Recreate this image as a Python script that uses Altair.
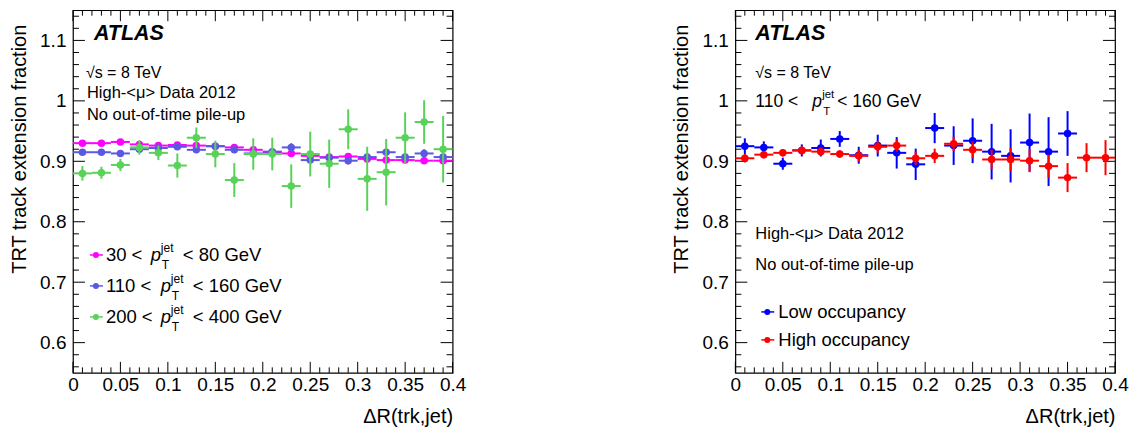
import altair as alt
import pandas as pd

FONT = "Liberation Sans"
W, H = 380, 363

# ---------------- data ----------------
bin_centers = [0.01, 0.03, 0.05, 0.07, 0.09, 0.11, 0.13, 0.15, 0.17, 0.19,
               0.21, 0.23, 0.25, 0.27, 0.29, 0.31, 0.33, 0.35, 0.37, 0.39]
half_width = 0.01

# left panel: three jet pT ranges
pt30_y = [0.930, 0.930, 0.932, 0.928, 0.926, 0.927, 0.926, 0.925, 0.923, 0.919,
          0.915, 0.913, 0.909, 0.907, 0.908, 0.904, 0.902, 0.902, 0.901, 0.901]
pt30_err = [0.002, 0.002, 0.002, 0.002, 0.002, 0.002, 0.002, 0.002, 0.002, 0.002,
            0.002, 0.002, 0.003, 0.003, 0.003, 0.003, 0.003, 0.003, 0.003, 0.003]

pt110_y = [0.915, 0.915, 0.913, 0.920, 0.922, 0.924, 0.919, 0.925, 0.919, 0.913,
           0.916, 0.923, 0.902, 0.906, 0.901, 0.907, 0.915, 0.907, 0.913, 0.907]
pt110_err = [0.002, 0.002, 0.003, 0.003, 0.003, 0.003, 0.003, 0.003, 0.004, 0.004,
             0.004, 0.007, 0.005, 0.005, 0.006, 0.006, 0.007, 0.006, 0.007, 0.007]

pt200_y = [0.880, 0.881, 0.894, 0.923, 0.914, 0.893, 0.939, 0.912, 0.869, 0.912,
           0.912, 0.859, 0.912, 0.896, 0.953, 0.871, 0.882, 0.939, 0.965, 0.920]
pt200_err = [0.012, 0.010, 0.010, 0.012, 0.012, 0.020, 0.017, 0.022, 0.028, 0.026,
             0.027, 0.036, 0.037, 0.040, 0.033, 0.053, 0.055, 0.042, 0.036, 0.055]

# right panel: occupancy
low_y = [0.925, 0.923, 0.896, 0.918, 0.922, 0.937, 0.910, 0.926, 0.914, 0.895,
         0.955, 0.926, 0.934, 0.916, 0.909, 0.931, 0.916, 0.946]
low_err = [0.013, 0.010, 0.010, 0.010, 0.014, 0.013, 0.014, 0.018, 0.026, 0.026,
           0.025, 0.032, 0.037, 0.046, 0.044, 0.048, 0.057, 0.037]

high_y = [0.905, 0.911, 0.914, 0.918, 0.916, 0.912, 0.909, 0.924, 0.926, 0.905,
          0.909, 0.929, 0.919, 0.903, 0.903, 0.901, 0.892, 0.873, 0.906, 0.906]
high_err = [0.007, 0.006, 0.006, 0.007, 0.007, 0.006, 0.010, 0.010, 0.010, 0.011,
            0.012, 0.012, 0.014, 0.016, 0.019, 0.019, 0.019, 0.024, 0.024, 0.029]

# axis ticks
x_major = [0.0, 0.05, 0.1, 0.15, 0.2, 0.25, 0.3, 0.35, 0.4]
x_minor = [0.01, 0.02, 0.03, 0.04, 0.06, 0.07, 0.08, 0.09, 0.11, 0.12, 0.13, 0.14,
           0.16, 0.17, 0.18, 0.19, 0.21, 0.22, 0.23, 0.24, 0.26, 0.27, 0.28, 0.29,
           0.31, 0.32, 0.33, 0.34, 0.36, 0.37, 0.38, 0.39]
y_major = [0.6, 0.7, 0.8, 0.9, 1.0, 1.1]
y_minor = [0.56, 0.58, 0.62, 0.64, 0.66, 0.68, 0.72, 0.74, 0.76, 0.78, 0.82, 0.84,
           0.86, 0.88, 0.92, 0.94, 0.96, 0.98, 1.02, 1.04, 1.06, 1.08, 1.12, 1.14]

# ---------------- helpers ----------------
xscale = alt.Scale(domain=[0, 0.4], nice=False, zero=False)
yscale = alt.Scale(domain=[0.55, 1.15], nice=False, zero=False)
xaxis = alt.Axis(values=x_major, format="~g", title="ΔR(trk,jet)", titleAnchor="end",
                 labelPadding=3, titlePadding=12, labelFlush=False, labelOverlap=False,
                 ticks=False, domain=False, grid=False)
yaxis = alt.Axis(values=y_major, format="~g", title="TRT track extension fraction",
                 titleAnchor="end", titleY=14, labelPadding=7, titlePadding=10,
                 labelFlush=False, labelOverlap=False, ticks=False, domain=False,
                 grid=False)


def X(f):
    return alt.X(f, type="quantitative", scale=xscale, axis=xaxis)


def Y(f):
    return alt.Y(f, type="quantitative", scale=yscale, axis=yaxis)


def series(yvals, errs, color):
    n = len(yvals)
    xs = bin_centers[:n]
    df = pd.DataFrame({
        "x": xs,
        "y": yvals,
        "xlo": [v - half_width for v in xs],
        "xhi": [v + half_width for v in xs],
        "ylo": [a - b for a, b in zip(yvals, errs)],
        "yhi": [a + b for a, b in zip(yvals, errs)],
    })
    base = alt.Chart(df)
    hbar = base.mark_rule(color=color, strokeWidth=2).encode(x=X("xlo"), x2="xhi", y=Y("y"))
    vbar = base.mark_rule(color=color, strokeWidth=2).encode(x=X("x"), y=Y("ylo"), y2="yhi")
    pts = base.mark_circle(color=color, size=56, opacity=1).encode(x=X("x"), y=Y("y"))
    return [hbar, vbar, pts]


def ticks():
    xmj = alt.Chart(pd.DataFrame({"v": x_major}))
    xmn = alt.Chart(pd.DataFrame({"v": x_minor}))
    ymj = alt.Chart(pd.DataFrame({"v": y_major}))
    ymn = alt.Chart(pd.DataFrame({"v": y_minor}))
    r = dict(color="black", strokeWidth=1)
    return [
        xmj.mark_rule(**r).encode(x=X("v"), y=alt.value(H), y2=alt.value(H - 11)),
        xmn.mark_rule(**r).encode(x=X("v"), y=alt.value(H), y2=alt.value(H - 5.5)),
        xmj.mark_rule(**r).encode(x=X("v"), y=alt.value(0), y2=alt.value(11)),
        xmn.mark_rule(**r).encode(x=X("v"), y=alt.value(0), y2=alt.value(5.5)),
        ymj.mark_rule(**r).encode(y=Y("v"), x=alt.value(0), x2=alt.value(12)),
        ymn.mark_rule(**r).encode(y=Y("v"), x=alt.value(0), x2=alt.value(6)),
        ymj.mark_rule(**r).encode(y=Y("v"), x=alt.value(W), x2=alt.value(W - 12)),
        ymn.mark_rule(**r).encode(y=Y("v"), x=alt.value(W), x2=alt.value(W - 6)),
    ]


one = pd.DataFrame({"a": [0]})


def txt(s, x, y, size=16.5, style="normal", weight="normal"):
    return alt.Chart(one).mark_text(
        text=s, font=FONT, fontSize=size, fontStyle=style, fontWeight=weight,
        align="left", baseline="middle", color="black"
    ).encode(x=alt.value(x), y=alt.value(y))


def ptjet(prefix, suffix, x0, xp, xs_, y, size):
    return [
        txt(prefix, x0, y, size),
        txt("p", xp, y, size, style="italic"),
        txt("jet", xp + 10, y - 7, size * 0.65),
        txt("T", xp + 11, y + 10, size * 0.65),
        txt(suffix, xs_, y, size),
    ]


def legend_marker(color, x, y):
    line = alt.Chart(one).mark_rule(color=color, strokeWidth=1.5).encode(
        x=alt.value(x - 6), x2=alt.value(x + 7), y=alt.value(y))
    dot = alt.Chart(one).mark_circle(color=color, size=36, opacity=1).encode(
        x=alt.value(x), y=alt.value(y))
    return [line, dot]


# ---------------- left panel ----------------
MAG, PERI, GRN = "#ff00ff", "#5a5ae0", "#5ad25a"
left_layers = ticks()
left_layers += series(pt30_y, pt30_err, MAG)
left_layers += series(pt110_y, pt110_err, PERI)
left_layers += series(pt200_y, pt200_err, GRN)
left_layers += [
    txt("ATLAS", 21, 24, 21.5, style="italic", weight="bold"),
    txt("√s = 8 TeV", 13, 63, 16),
    txt("High-<μ> Data 2012", 14, 83, 16.5),
    txt("No out-of-time pile-up", 14, 105, 16.5),
]
left_layers += legend_marker(MAG, 23, 245)
left_layers += ptjet("30 <", "< 80 GeV", 33, 78, 110, 245, 18.5)
left_layers += legend_marker(PERI, 23, 276)
left_layers += ptjet("110 <", "< 160 GeV", 33, 88, 120, 276, 18.5)
left_layers += legend_marker(GRN, 23, 307)
left_layers += ptjet("200 <", "< 400 GeV", 33, 88, 120, 307, 18.5)
left = alt.layer(*left_layers).properties(width=W, height=H)

# ---------------- right panel ----------------
BLUE, RED = "#0000ff", "#ff0000"
right_layers = ticks()
right_layers += series(low_y, low_err, BLUE)
right_layers += series(high_y, high_err, RED)
right_layers += [
    txt("ATLAS", 20, 24, 21.5, style="italic", weight="bold"),
    txt("√s = 8 TeV", 20, 63, 16),
    txt("High-<μ> Data 2012", 20, 224, 16.5),
    txt("No out-of-time pile-up", 20, 255, 16.5),
    txt("Low occupancy", 43, 302, 18.5),
    txt("High occupancy", 43, 330, 18.5),
]
right_layers += ptjet("110 <", "< 160 GeV", 20, 77, 102, 92, 17.5)
right_layers += legend_marker(BLUE, 32, 302)
right_layers += legend_marker(RED, 32, 330)
right = alt.layer(*right_layers).properties(width=W, height=H)

chart = alt.hconcat(left, right, spacing=283, bounds="flush").properties(
    padding=0
).configure_view(
    stroke="black", strokeWidth=1.2
).configure_axis(
    labelFont=FONT, titleFont=FONT, labelFontSize=19, titleFontSize=20,
    titleFontWeight="normal", labelColor="black", titleColor="black"
)

chart.save("out.html", embed_options={"renderer": "svg", "actions": False})
